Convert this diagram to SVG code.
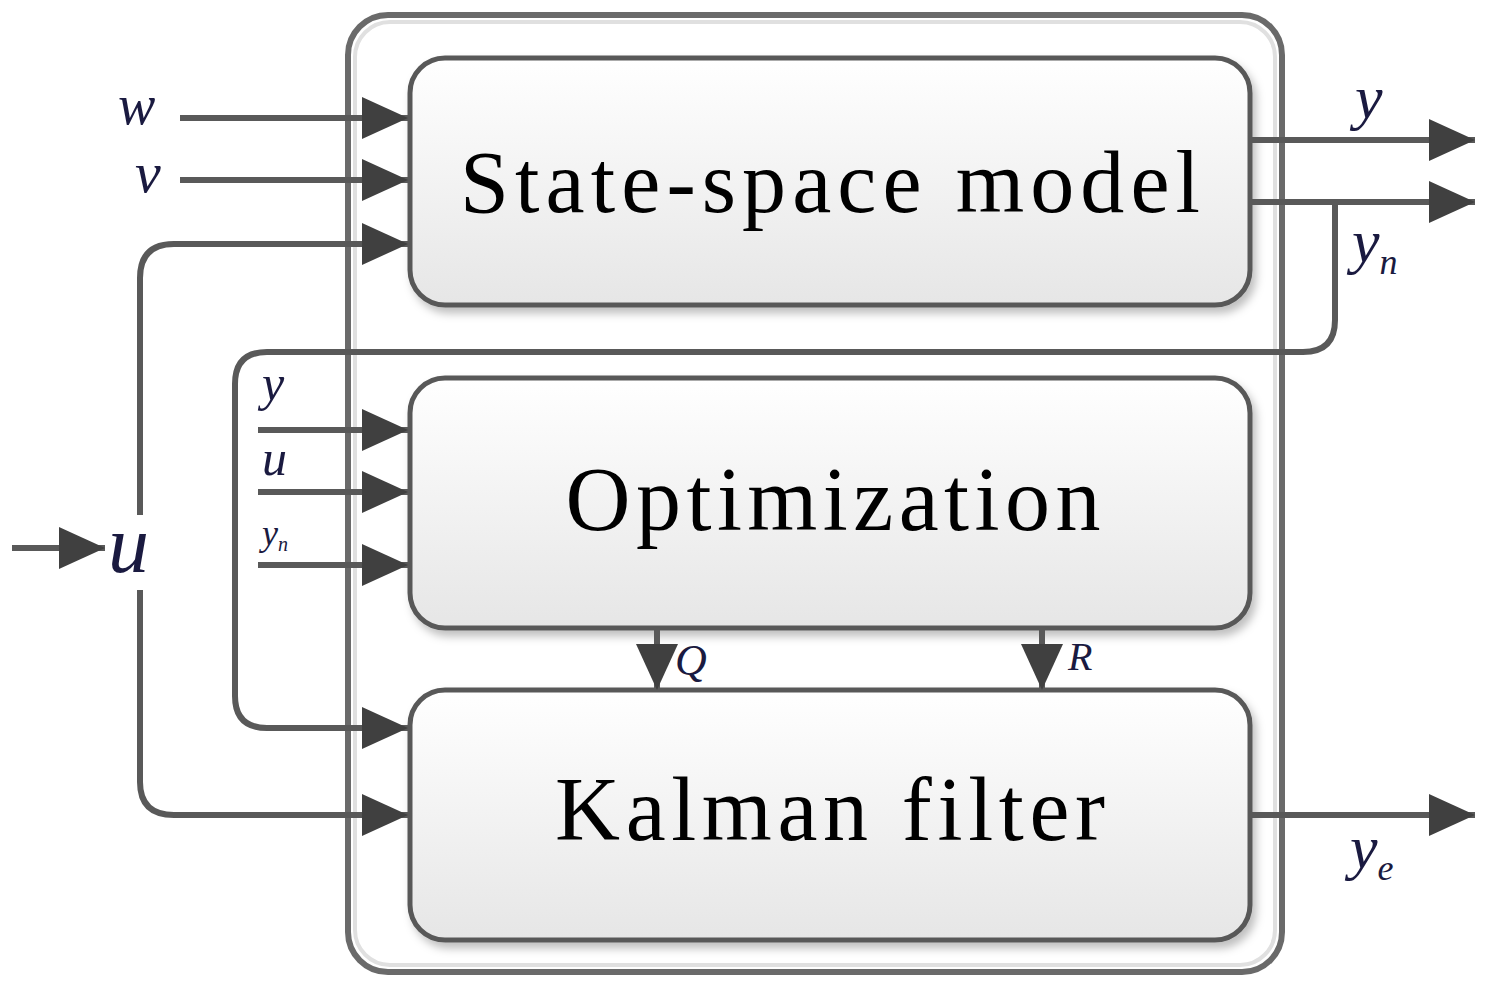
<svg xmlns="http://www.w3.org/2000/svg" width="1493" height="995" viewBox="0 0 1493 995">
<defs>
<linearGradient id="g" x1="0" y1="0" x2="0" y2="1"><stop offset="0" stop-color="#ffffff"/><stop offset="1" stop-color="#e6e6e6"/></linearGradient>
<marker id="a" markerUnits="userSpaceOnUse" markerWidth="48" markerHeight="46" refX="46" refY="23" orient="auto"><path d="M0,2 L46,23 L0,44 Z" fill="#404040"/></marker>
<filter id="s" x="-5%" y="-5%" width="110%" height="115%"><feDropShadow dx="4" dy="6" stdDeviation="4" flood-color="#000" flood-opacity="0.25"/></filter>
</defs>
<style>
.box{fill:url(#g);stroke:#595959;stroke-width:5;filter:url(#s)}
.c{fill:none;stroke:#595959;stroke-width:6}
.ar{marker-end:url(#a)}
.t{font-family:"Liberation Serif",serif;fill:#000}
.l{font-family:"Liberation Serif",serif;font-style:italic;fill:#1a1a40}
</style>
<rect width="1493" height="995" fill="#fff"/>
<g id="container"><rect x="348" y="15" width="934" height="957" rx="40" fill="#fff" stroke="#6a6a6a" stroke-width="6"/><rect x="355" y="22" width="920" height="943" rx="35" fill="none" stroke="#e0e0e0" stroke-width="4"/></g>
<g id="ssm"><rect class="box" x="410" y="58" width="840" height="247" rx="35"/><text class="t" x="830" y="212" font-size="88" text-anchor="middle" textLength="740">State-space model</text></g>
<g id="opt"><rect class="box" x="410" y="378" width="840" height="250" rx="35"/><text class="t" x="833" y="530" font-size="90" text-anchor="middle" textLength="535">Optimization</text></g>
<g id="kf"><rect class="box" x="410" y="690" width="840" height="250" rx="35"/><text class="t" x="830" y="840" font-size="90" text-anchor="middle" textLength="550">Kalman filter</text></g>
<g id="connectors">
<path class="c ar" d="M180,118 H408"/>
<path class="c ar" d="M180,180 H408"/>
<path class="c ar" d="M140,515 V278 Q140,244 174,244 H408"/>
<path class="c ar" d="M140,590 V782 Q140,815 174,815 H408"/>
<path class="c ar" d="M12,548 H105"/>
<path class="c ar" d="M1250,140 H1475"/>
<path class="c ar" d="M1250,202 H1475"/>
<path class="c ar" d="M1335,202 V320 Q1335,352 1303,352 H267 Q235,352 235,384 V696 Q235,728 267,728 H408"/>
<path class="c ar" d="M258,430 H408"/>
<path class="c ar" d="M258,492 H408"/>
<path class="c ar" d="M258,565 H408"/>
<path class="c ar" d="M657,628 V690"/>
<path class="c ar" d="M1042,628 V690"/>
<path class="c ar" d="M1250,815 H1475"/>
</g>
<g id="labels">
<text class="l" x="118" y="124" font-size="56">w</text>
<text class="l" x="135" y="192" font-size="58">v</text>
<text class="l" x="108" y="572" font-size="82">u</text>
<text class="l" x="1355" y="118" font-size="62">y</text>
<text class="l" x="1352" y="262" font-size="62">y<tspan font-size="36" dy="12">n</tspan></text>
<text class="l" x="1350" y="868" font-size="62">y<tspan font-size="36" dy="12">e</tspan></text>
<text class="l" x="262" y="400" font-size="50">y</text>
<text class="l" x="262" y="475" font-size="50">u</text>
<text class="l" x="262" y="545" font-size="36">y<tspan font-size="20" dy="6">n</tspan></text>
<text class="l" x="675" y="675" font-size="44">Q</text>
<text class="l" x="1068" y="670" font-size="40">R</text>
</g>
</svg>
